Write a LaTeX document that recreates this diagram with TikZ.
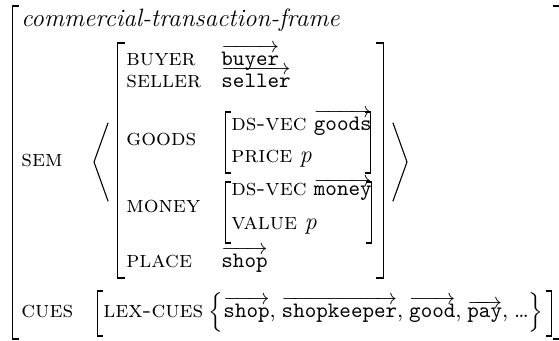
\documentclass[tikz,border=0pt]{standalone}
\usepackage{amsmath}
\usepackage{fontspec}
\newcommand{\vecw}[1]{$\overrightarrow{\mbox{\texttt{#1}}}$}
\newcommand{\fsc}[1]{{\fontsize{10.6}{12}\selectfont\addfontfeature{LetterSpace=4}\textsc{#1}}}
\begin{document}
\begin{tikzpicture}[x=0.4545pt,y=-0.4545pt,
  txt/.style={anchor=base west,inner sep=0pt,font=\fontsize{10}{12}\selectfont},
  brk/.style={line width=0.75pt,line cap=butt},
  ang/.style={line width=0.5pt,line cap=round}]
\clip (0,0) rectangle (559,341);
% outer bracket
\draw[brk] (19,6) -- (12.5,6) -- (12.5,339) -- (19,339);
\draw[brk] (553,6) -- (559.5,6) -- (559.5,339) -- (553,339);
\node[txt,font=\fontsize{11.4}{13}\selectfont] (frame) at (21,27) {\itshape commercial-transaction-frame};
% SEM
\node[txt] (sem) at (21,167) {\fsc{sem}};
\draw[ang] (108,123) -- (94,162) -- (108,201);
\draw[ang] (393,123) -- (407,162) -- (393,201);
\draw[brk] (125,43) -- (117.5,43) -- (117.5,278) -- (125,278);
\draw[brk] (376,43) -- (383.5,43) -- (383.5,278) -- (376,278);
\node[txt] (buyer) at (126,66) {\fsc{buyer}};
\node[txt] (buyerv) at (221,66) {\vecw{buyer}};
\node[txt] (seller) at (126,88) {\fsc{seller}};
\node[txt] (sellerv) at (221,88) {\vecw{seller}};
\node[txt] (goods) at (126,146) {\fsc{goods}};
\draw[brk] (231,112) -- (225.5,112) -- (225.5,173) -- (231,173);
\draw[brk] (365,112) -- (370.5,112) -- (370.5,173) -- (365,173);
\node[txt] (gdsvec) at (231,131) {\fsc{ds-vec} \vecw{goods}};
\node[txt] (price) at (231,163) {\fsc{price} {\fontsize{11}{13}\selectfont\textit{p}}};
\node[txt] (money) at (126,213) {\fsc{money}};
\draw[brk] (231,182) -- (225.5,182) -- (225.5,243) -- (231,243);
\draw[brk] (366,182) -- (371.5,182) -- (371.5,243) -- (366,243);
\node[txt] (mdsvec) at (231,196) {\fsc{ds-vec} \vecw{money}};
\node[txt] (value) at (231,230) {\fsc{value} {\fontsize{11}{13}\selectfont\textit{p}}};
\node[txt] (place) at (126,268) {\fsc{place}};
\node[txt] (placev) at (221,268) {\vecw{shop}};
% CUES
\node[txt] (cues) at (21,318) {\fsc{cues}};
\draw[brk] (103,291) -- (97.5,291) -- (97.5,336) -- (103,336);
\draw[brk] (546,291) -- (551.5,291) -- (551.5,336) -- (546,336);
\node[txt] (lex) at (103,318) {\makebox[200pt][s]{\fsc{lex-cues} $\Big\{$\vecw{shop}, \vecw{shopkeeper}, \vecw{good}, \vecw{pay}, \ldots$\Big\}$}};
\end{tikzpicture}
\end{document}
